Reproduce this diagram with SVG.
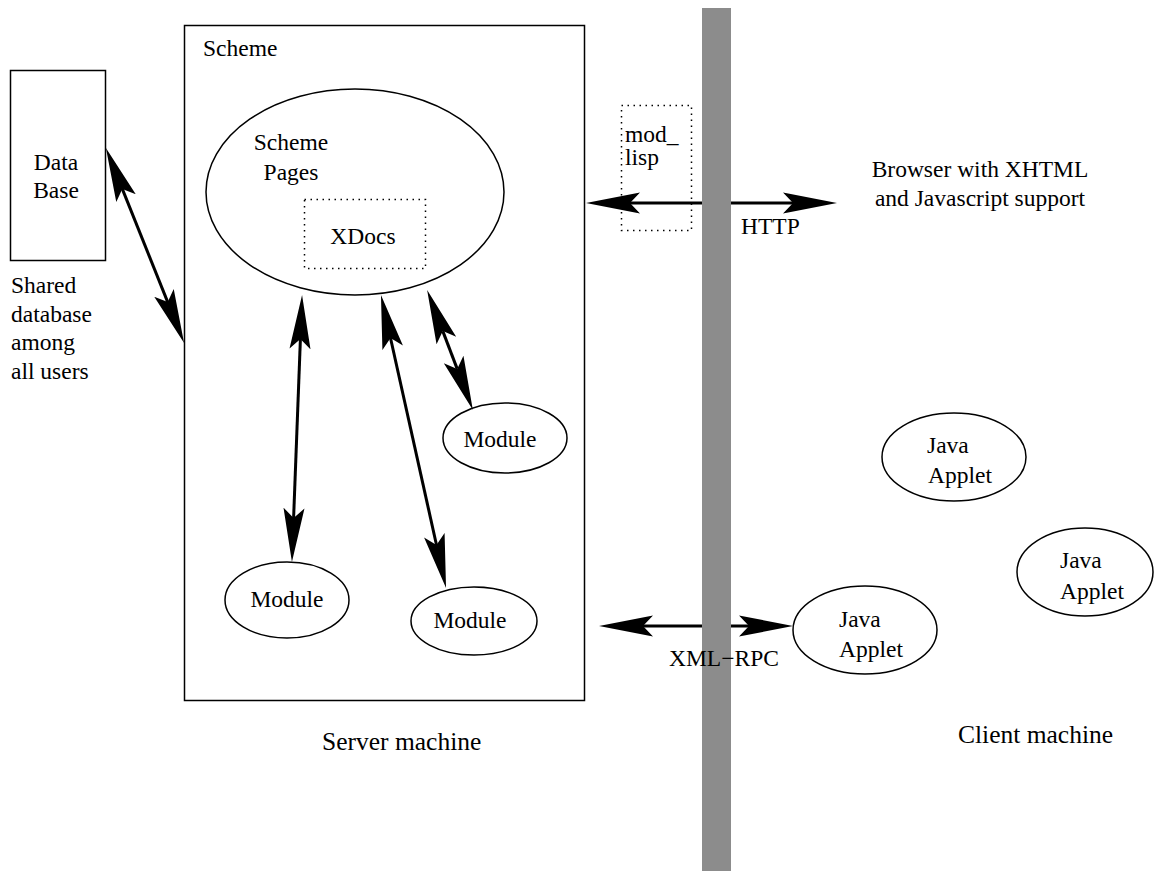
<svg xmlns="http://www.w3.org/2000/svg" width="1154" height="871" viewBox="0 0 1154 871">
<style>
text{font-family:"Liberation Serif","Times New Roman",serif;font-size:23.5px;fill:#000}
.shape{fill:none;stroke:#000;stroke-width:1.5}
.dot{fill:none;stroke:#000;stroke-width:1.5;stroke-dasharray:1.5 4.5}
.conn{stroke:#000;stroke-width:3;fill:none;marker-start:url(#ah);marker-end:url(#ah)}
.big{font-size:25.5px}
.mid{text-anchor:middle}
</style>
<defs>
<marker id="ah" markerUnits="userSpaceOnUse" markerWidth="60" markerHeight="26" viewBox="0 -13 60 26" refX="10" refY="0" orient="auto-start-reverse">
<path d="M54,0 L0,-10.5 L10,0 L0,10.5 Z" fill="#000"/>
</marker>
</defs>
<rect width="1154" height="871" fill="#fff"/>

<g id="scheme">
<rect class="shape" x="184.5" y="25.5" width="400" height="675"/>
<text x="203" y="56">Scheme</text>
</g>

<g id="database">
<rect class="shape" x="10.5" y="70.5" width="95" height="190"/>
<text class="mid" x="56" y="170">Data</text>
<text class="mid" x="56" y="198">Base</text>
</g>

<g id="shared-label">
<text x="11" y="293">Shared</text>
<text x="11" y="321.5">database</text>
<text x="11" y="350">among</text>
<text x="11" y="378.5">all users</text>
</g>

<g id="scheme-pages">
<ellipse class="shape" cx="355" cy="192" rx="149" ry="103"/>
<text class="mid" x="291" y="150">Scheme</text>
<text class="mid" x="291" y="180">Pages</text>
</g>

<g id="xdocs">
<rect class="dot" x="304.5" y="199.5" width="121" height="69"/>
<text class="mid" x="363" y="244">XDocs</text>
</g>

<g id="module-1">
<ellipse class="shape" cx="505" cy="438" rx="62" ry="35"/>
<text class="mid" x="500" y="447">Module</text>
</g>
<g id="module-2">
<ellipse class="shape" cx="287" cy="600" rx="62" ry="38"/>
<text class="mid" x="287" y="607">Module</text>
</g>
<g id="module-3">
<ellipse class="shape" cx="474" cy="621" rx="63" ry="34"/>
<text class="mid" x="470" y="628">Module</text>
</g>

<g id="mod-lisp">
<rect class="dot" x="621.5" y="105.5" width="70" height="125"/>
<text x="625" y="142">mod_</text>
<text x="625" y="165">lisp</text>
</g>

<g id="browser">
<text class="mid" x="980" y="177">Browser with XHTML</text>
<text class="mid" x="980" y="206">and Javascript support</text>
</g>

<g id="applet-1">
<ellipse class="shape" cx="954" cy="457" rx="72" ry="44"/>
<text x="927" y="453">Java</text>
<text x="928" y="483">Applet</text>
</g>
<g id="applet-2">
<ellipse class="shape" cx="1085" cy="572" rx="68" ry="44"/>
<text x="1060" y="568">Java</text>
<text x="1060" y="599">Applet</text>
</g>
<g id="applet-3">
<ellipse class="shape" cx="865" cy="630" rx="72" ry="44"/>
<text x="839" y="627">Java</text>
<text x="839" y="657">Applet</text>
</g>

<g id="connectors">
<line class="conn" x1="122.3" y1="188.9" x2="167.7" y2="302.1"/>
<line class="conn" x1="300.4" y1="339" x2="293.6" y2="518"/>
<line class="conn" x1="390.5" y1="338" x2="436.5" y2="545"/>
<line class="conn" x1="442.8" y1="331.1" x2="457.2" y2="368.9"/>
<line class="conn" x1="630" y1="203" x2="793" y2="203"/>
<line class="conn" x1="643" y1="626" x2="749" y2="626"/>
</g>

<g id="divider">
<rect x="702" y="8" width="29" height="863" fill="#8c8c8c"/>
</g>

<g id="labels">
<text x="741" y="234">HTTP</text>
<text x="669" y="666">XML−RPC</text>
<text class="big" x="322" y="750">Server machine</text>
<text class="big" x="958" y="743">Client machine</text>
</g>
</svg>
